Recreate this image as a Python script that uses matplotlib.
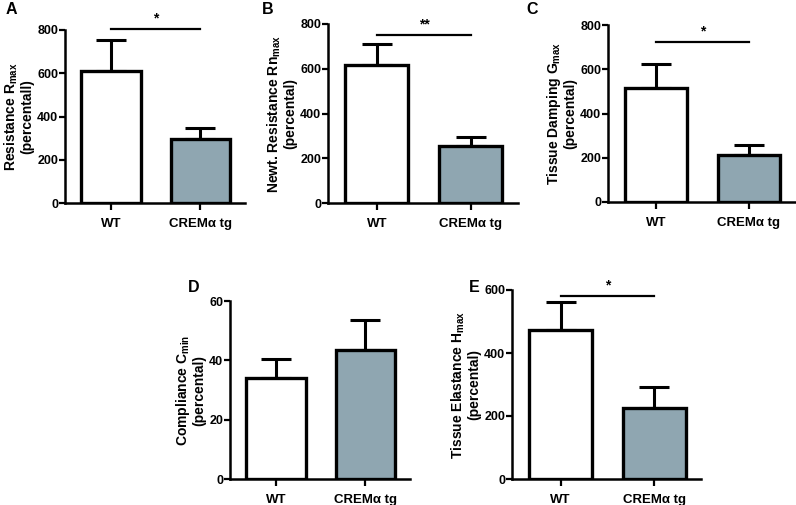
import matplotlib
matplotlib.use("Agg")
import matplotlib.pyplot as plt
import numpy as np

plt.rcParams['font.family'] = ['Liberation Sans Narrow', 'Liberation Sans', 'DejaVu Sans']
plt.rcParams['font.weight'] = 'bold'
plt.rcParams['mathtext.fontset'] = 'custom'
plt.rcParams['mathtext.rm'] = 'Liberation Sans:bold'
plt.rcParams['mathtext.bf'] = 'Liberation Sans:bold'
plt.rcParams['mathtext.default'] = 'bf'

groups = ['WT', 'CREMα tg']
bar_colors = ['white', '#8fa6b1']

# panel data: mean, sem (upper error only)
res_mean = [610, 298]
res_sem = [144, 51]
newt_mean = [615, 255]
newt_sem = [95, 39]
damp_mean = [517, 212]
damp_sem = [107, 47]
comp_mean = [33.9, 43.4]
comp_sem = [6.5, 10.2]
elast_mean = [473, 224]
elast_sem = [89, 67]

panels = [
    # letter, ylabel, mean, sem, ymax, ticks, sig text, sig y, pixel rect (spine x, right x, top y, base y)
    ('A', 'Resistance R$_{max}$\n(percentall)', res_mean, res_sem, 800, [0, 200, 400, 600, 800], '*', 803, (65, 245, 30, 203)),
    ('B', 'Newt. Resistance Rn$_{max}$\n(percental)', newt_mean, newt_sem, 800, [0, 200, 400, 600, 800], '**', 752, (328, 518, 24, 203)),
    ('C', 'Tissue Damping G$_{max}$\n(percental)', damp_mean, damp_sem, 800, [0, 200, 400, 600, 800], '*', 723, (608, 795, 25, 202)),
    ('D', 'Compliance C$_{min}$\n(percental)', comp_mean, comp_sem, 60, [0, 20, 40, 60], None, None, (230, 410, 301, 479)),
    ('E', 'Tissue Elastance H$_{max}$\n(percental)', elast_mean, elast_sem, 600, [0, 200, 400, 600], '*', 581, (512, 701, 290, 479)),
]
letter_pos = {'A': (6, 9), 'B': (262, 10), 'C': (526, 10), 'D': (188, 288), 'E': (469, 287)}

W, H = 796, 505
fig = plt.figure(figsize=(W / 100, H / 100), dpi=100)

x = np.arange(len(groups))
for letter, ylab, mean, sem, ymax, ticks, sig, sig_y, (x0, x1, yt, yb) in panels:
    ax = fig.add_axes([x0 / W, 1 - yb / H, (x1 - x0) / W, (yb - yt) / H])
    ax.errorbar(x, mean, yerr=[[0, 0], sem], fmt='none', ecolor='black',
                elinewidth=2.2, capsize=11, capthick=2.2, zorder=1)
    ax.bar(x, mean, width=0.67, color=bar_colors, edgecolor='black', linewidth=2.4, zorder=2)
    ax.set_xlim(-0.52, 1.5)
    ax.set_ylim(0, ymax)
    ax.set_yticks(ticks)
    ax.set_xticks(x)
    ax.set_xticklabels(groups, fontsize=9.5, fontweight='bold')
    ax.tick_params(axis='y', labelsize=9, width=1.6, length=4, pad=1)
    ax.tick_params(axis='x', width=1.6, length=5, pad=6)
    for s in ['top', 'right']:
        ax.spines[s].set_visible(False)
    for s in ['left', 'bottom']:
        ax.spines[s].set_linewidth(1.8)
    ax.set_ylabel(ylab, fontsize=10, fontweight='bold', labelpad=2, linespacing=1.05)
    if sig:
        ax.plot([0, 1], [sig_y, sig_y], color='black', lw=1.6, clip_on=False)
        ax.text(0.5, sig_y + ymax * 0.02, sig, ha='center', va='bottom', fontsize=10)
    lx, ly = letter_pos[letter]
    fig.text(lx / W, 1 - ly / H, letter, fontsize=11.5, fontweight='bold', va='center', ha='left')

fig.savefig('out.png', dpi=100)
